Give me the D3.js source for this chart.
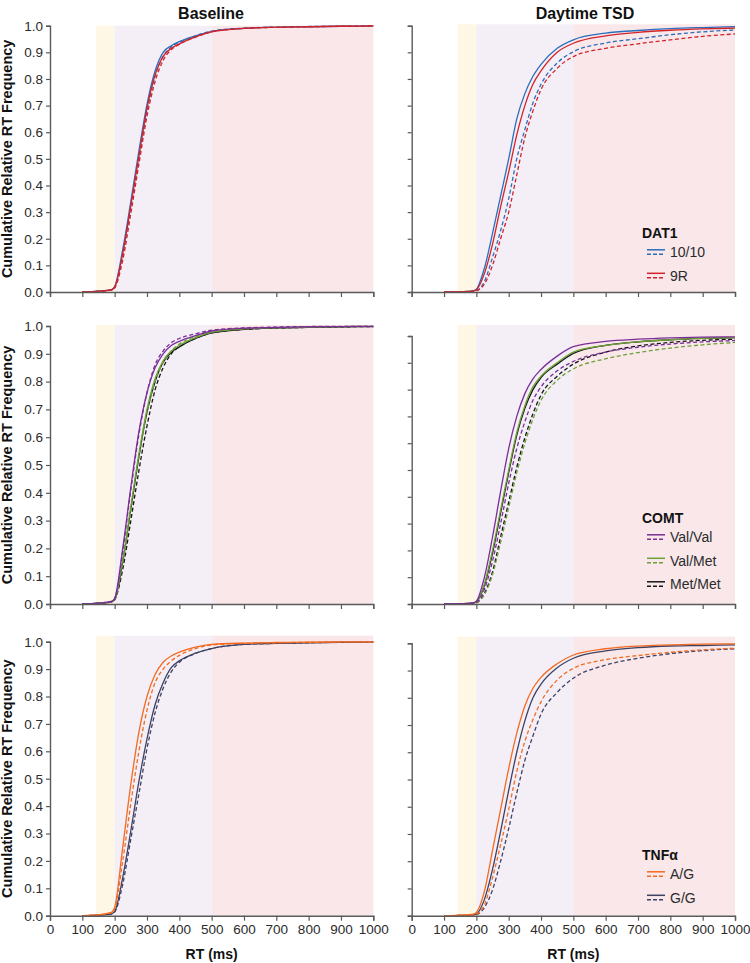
<!DOCTYPE html>
<html><head><meta charset="utf-8">
<script src="https://cdn.jsdelivr.net/npm/d3@7"></script>
<style>
html,body{margin:0;padding:0;background:#fff;}
svg{display:block;font-family:"Liberation Sans",Arial,sans-serif;}
</style></head>
<body>
<div id="chart"></div>
<script>
// ---------------- DATA ----------------
const rt = [100,150,190,200,225,250,275,300,325,350,375,400,450,500,600,700,800,900,1000];
const xTicks = [0,100,200,300,400,500,600,700,800,900,1000];
const yTicks = [0,0.1,0.2,0.3,0.4,0.5,0.6,0.7,0.8,0.9,1.0];
const columnTitles = ["Baseline","Daytime TSD"];
const bands = [[142,200],[200,500],[500,1000]];

// DAT1
const b_dat_1010_s = [0,0.003,0.009,0.02,0.16,0.34,0.53,0.705,0.83,0.9,0.925,0.94,0.962,0.978,0.99,0.994,0.996,0.998,0.999];
const b_dat_1010_d = [0,0.003,0.008,0.018,0.14,0.32,0.50,0.68,0.81,0.885,0.92,0.937,0.962,0.98,0.991,0.995,0.997,0.998,0.999];
const b_dat_9r_s   = [0,0.003,0.008,0.018,0.145,0.325,0.51,0.69,0.815,0.885,0.915,0.932,0.958,0.977,0.99,0.994,0.996,0.998,0.999];
const b_dat_9r_d   = [0,0.002,0.007,0.015,0.12,0.295,0.48,0.66,0.79,0.87,0.91,0.93,0.957,0.977,0.99,0.994,0.996,0.998,0.999];
const t_dat_1010_s = [0,0.001,0.004,0.01,0.09,0.22,0.36,0.50,0.65,0.745,0.81,0.855,0.915,0.947,0.972,0.982,0.989,0.993,0.996];
const t_dat_9r_s   = [0,0.001,0.003,0.008,0.07,0.18,0.32,0.45,0.59,0.70,0.78,0.83,0.90,0.934,0.962,0.975,0.983,0.988,0.991];
const t_dat_1010_d = [0,0.001,0.003,0.005,0.04,0.13,0.23,0.35,0.50,0.61,0.71,0.78,0.86,0.902,0.935,0.951,0.966,0.977,0.984];
const t_dat_9r_d   = [0,0.001,0.002,0.004,0.03,0.10,0.20,0.30,0.44,0.58,0.68,0.76,0.84,0.884,0.915,0.932,0.947,0.96,0.969];

// COMT
const b_comt_vv_s = [0,0.003,0.009,0.02,0.2,0.42,0.62,0.76,0.85,0.9,0.93,0.945,0.965,0.982,0.992,0.995,0.997,0.998,0.999];
const b_comt_vv_d = [0,0.003,0.009,0.02,0.19,0.41,0.61,0.76,0.86,0.91,0.94,0.955,0.972,0.985,0.993,0.996,0.998,0.999,0.999];
const b_comt_vm_s = [0,0.003,0.008,0.018,0.16,0.35,0.54,0.70,0.81,0.875,0.91,0.93,0.958,0.977,0.99,0.994,0.996,0.998,0.999];
const b_comt_vm_d = [0,0.003,0.008,0.017,0.15,0.34,0.53,0.69,0.80,0.87,0.91,0.935,0.962,0.98,0.991,0.995,0.997,0.998,0.999];
const b_comt_mm_s = [0,0.003,0.008,0.017,0.15,0.34,0.53,0.69,0.80,0.87,0.905,0.925,0.955,0.975,0.988,0.993,0.995,0.997,0.998];
const b_comt_mm_d = [0,0.002,0.007,0.015,0.125,0.30,0.48,0.64,0.77,0.85,0.9,0.925,0.955,0.975,0.988,0.993,0.995,0.997,0.998];
const t_comt_vv_s = [0,0.001,0.004,0.01,0.1,0.25,0.42,0.58,0.70,0.785,0.84,0.875,0.925,0.96,0.98,0.988,0.993,0.996,0.997];
const t_comt_vm_s = [0,0.001,0.003,0.008,0.075,0.2,0.35,0.5,0.64,0.74,0.81,0.85,0.9,0.94,0.965,0.978,0.986,0.991,0.994];
const t_comt_mm_s = [0,0.001,0.003,0.008,0.07,0.19,0.34,0.49,0.63,0.73,0.80,0.845,0.895,0.935,0.965,0.978,0.986,0.991,0.994];
const t_comt_vv_d = [0,0.001,0.002,0.006,0.055,0.16,0.30,0.45,0.58,0.68,0.76,0.81,0.87,0.905,0.94,0.958,0.97,0.978,0.983];
const t_comt_mm_d = [0,0.001,0.002,0.004,0.04,0.12,0.25,0.38,0.51,0.62,0.71,0.78,0.85,0.895,0.94,0.963,0.976,0.984,0.988];
const t_comt_vm_d = [0,0.001,0.002,0.004,0.035,0.11,0.23,0.36,0.49,0.60,0.69,0.76,0.835,0.877,0.915,0.938,0.955,0.967,0.976];

// TNFα
const b_tnf_ag_s = [0,0.004,0.012,0.03,0.25,0.48,0.67,0.8,0.88,0.925,0.948,0.962,0.98,0.99,0.995,0.997,0.998,0.999,0.999];
const b_tnf_ag_d = [0,0.003,0.01,0.025,0.2,0.41,0.6,0.75,0.85,0.9,0.93,0.95,0.975,0.988,0.994,0.996,0.998,0.999,0.999];
const b_tnf_gg_s = [0,0.002,0.007,0.015,0.14,0.31,0.49,0.645,0.77,0.85,0.905,0.93,0.958,0.975,0.99,0.994,0.996,0.998,0.999];
const b_tnf_gg_d = [0,0.002,0.006,0.013,0.115,0.28,0.445,0.61,0.74,0.83,0.89,0.925,0.957,0.975,0.99,0.994,0.996,0.998,0.999];
const t_tnf_ag_s = [0,0.002,0.006,0.012,0.09,0.24,0.39,0.54,0.67,0.77,0.835,0.875,0.925,0.957,0.98,0.99,0.994,0.997,0.998];
const t_tnf_gg_s = [0,0.001,0.003,0.006,0.06,0.17,0.31,0.46,0.6,0.715,0.8,0.85,0.91,0.945,0.972,0.984,0.99,0.992,0.994];
const t_tnf_ag_d = [0,0.001,0.002,0.005,0.04,0.14,0.26,0.39,0.53,0.64,0.72,0.785,0.865,0.908,0.94,0.955,0.967,0.976,0.982];
const t_tnf_gg_d = [0,0.001,0.002,0.004,0.03,0.095,0.2,0.32,0.45,0.57,0.66,0.74,0.82,0.872,0.92,0.945,0.962,0.973,0.98];

const genes = ["DAT1","COMT","TNFα"];
const genotypes = [["10/10","9R"],["Val/Val","Val/Met","Met/Met"],["A/G","G/G"]];
const genoColors = [["#2a6ebb","#d2232a"],["#7a2e98","#6da136","#161616"],["#f26b21","#3e4163"]];

const rowSeries = [
  [
    [{g:0,d:false,v:b_dat_1010_s},{g:0,d:true,v:b_dat_1010_d},{g:1,d:false,v:b_dat_9r_s},{g:1,d:true,v:b_dat_9r_d}],
    [{g:0,d:false,v:t_dat_1010_s},{g:0,d:true,v:t_dat_1010_d},{g:1,d:false,v:t_dat_9r_s},{g:1,d:true,v:t_dat_9r_d}]
  ],
  [
    [{g:2,d:false,v:b_comt_mm_s},{g:2,d:true,v:b_comt_mm_d},{g:1,d:false,v:b_comt_vm_s},{g:1,d:true,v:b_comt_vm_d},{g:0,d:false,v:b_comt_vv_s},{g:0,d:true,v:b_comt_vv_d}],
    [{g:2,d:false,v:t_comt_mm_s},{g:2,d:true,v:t_comt_mm_d},{g:1,d:false,v:t_comt_vm_s},{g:1,d:true,v:t_comt_vm_d},{g:0,d:false,v:t_comt_vv_s},{g:0,d:true,v:t_comt_vv_d}]
  ],
  [
    [{g:1,d:false,v:b_tnf_gg_s},{g:1,d:true,v:b_tnf_gg_d},{g:0,d:false,v:b_tnf_ag_s},{g:0,d:true,v:b_tnf_ag_d}],
    [{g:1,d:false,v:t_tnf_gg_s},{g:1,d:true,v:t_tnf_gg_d},{g:0,d:false,v:t_tnf_ag_s},{g:0,d:true,v:t_tnf_ag_d}]
  ]
];

// ---------------- LAYOUT ----------------
const W = 750, H = 963;
const cols = [{x0:50, x1:373.3},{x0:411.7, x1:735}];
const rows = [
  {bgTop:[25.7,24.3], yTop:[25.7,25.7], yBot:292},
  {bgTop:[325,325], yTop:[326,336], yBot:604},
  {bgTop:[635.7,636.7], yTop:[641.7,643.3], yBot:915.7}
];
const bandColors = ["#fef7e5","#f4eef6","#f9e7e9"];
const axisColor = "#5a5a5a";
const textColor = "#2b2b2b";

const svg = d3.select("#chart").append("svg").attr("width",W).attr("height",H);

svg.append("text").attr("x",211).attr("y",19).attr("text-anchor","middle")
  .attr("font-weight","bold").attr("font-size",16).attr("fill","#111").text(columnTitles[0]);
svg.append("text").attr("x",585).attr("y",19).attr("text-anchor","middle")
  .attr("font-weight","bold").attr("font-size",16).attr("fill","#111").text(columnTitles[1]);

rows.forEach((row, ri) => {
  cols.forEach((col, ci) => {
    const x = d3.scaleLinear().domain([0,1000]).range([col.x0, col.x1]);
    const y = d3.scaleLinear().domain([0,1]).range([row.yBot, row.yTop[ci]]);
    const g = svg.append("g");

    bands.forEach((b, bi) => {
      g.append("rect").attr("x", x(b[0])).attr("y", row.bgTop[ci])
        .attr("width", x(b[1]) - x(b[0])).attr("height", row.yBot - row.bgTop[ci])
        .attr("fill", bandColors[bi]);
    });

    const line = d3.line().x((d,i) => x(rt[i])).y(d => y(d)).curve(d3.curveMonotoneX);
    rowSeries[ri][ci].forEach(s => {
      g.append("path").attr("d", line(s.v)).attr("fill","none")
        .attr("stroke", genoColors[ri][s.g]).attr("stroke-width",1.3)
        .attr("stroke-dasharray", s.d ? "4,2.5" : null);
    });

    const yAxis = d3.axisLeft(y).tickValues(yTicks).tickSize(4).tickPadding(3)
      .tickFormat(ci === 0 ? d3.format(".1f") : "");
    const ya = g.append("g").attr("transform",`translate(${col.x0},0)`).call(yAxis);
    const xAxis = d3.axisBottom(x).tickValues(xTicks).tickSize(5).tickPadding(4)
      .tickFormat(ri === 2 ? d3.format("d") : "");
    const xa = g.append("g").attr("transform",`translate(0,${row.yBot})`).call(xAxis);
    [ya, xa].forEach(a => {
      a.select(".domain").attr("stroke", axisColor).attr("stroke-width",1.4);
      a.selectAll(".tick line").attr("stroke", axisColor).attr("stroke-width",1.2);
      a.selectAll(".tick text").attr("fill", textColor).attr("font-size",13.5)
        .attr("font-family","'Liberation Sans',Arial,sans-serif");
    });

    if (ci === 0) {
      const cy = (row.yBot + row.yTop[ci]) / 2;
      svg.append("text").attr("transform",`translate(12,${cy}) rotate(-90)`)
        .attr("text-anchor","middle").attr("font-weight","bold").attr("font-size",14.5)
        .attr("fill","#111").text("Cumulative Relative RT Frequency");
    }
    if (ri === 2) {
      svg.append("text").attr("x",(col.x0+col.x1)/2).attr("y",959).attr("text-anchor","middle")
        .attr("font-weight","bold").attr("font-size",14).attr("fill","#111").text("RT (ms)");
    }

    if (ci === 1) {
      const legTitleY = [238, 523, 860][ri];
      const legX = 642;
      g.append("text").attr("x", legX).attr("y", legTitleY).attr("font-weight","bold")
        .attr("font-size",14).attr("fill","#111").text(genes[ri]);
      genotypes[ri].forEach((name, k) => {
        const cy = legTitleY + 14 + k * 23.5;
        const c = genoColors[ri][k];
        g.append("line").attr("x1", legX+5).attr("x2", legX+23).attr("y1", cy-2.2).attr("y2", cy-2.2)
          .attr("stroke", c).attr("stroke-width",1.5);
        g.append("line").attr("x1", legX+5).attr("x2", legX+23).attr("y1", cy+2.2).attr("y2", cy+2.2)
          .attr("stroke", c).attr("stroke-width",1.5).attr("stroke-dasharray","4,2");
        g.append("text").attr("x", legX+28).attr("y", cy+5).attr("font-size",14)
          .attr("fill", textColor).text(name);
      });
    }
  });
});
</script>
</body></html>
